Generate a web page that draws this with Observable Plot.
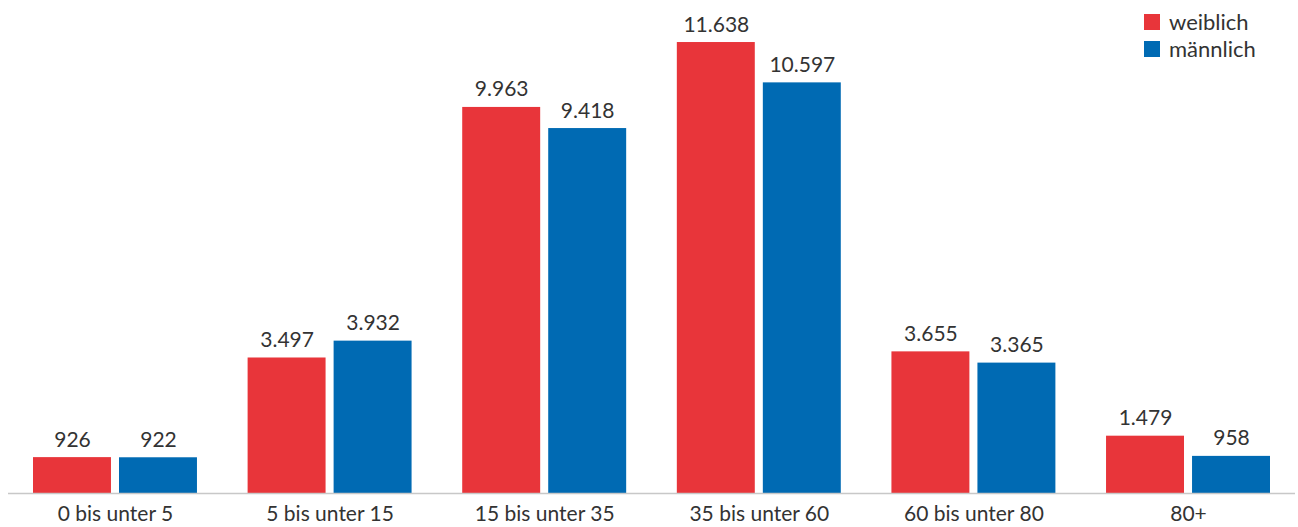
<!DOCTYPE html>
<html>
<head>
<meta charset="utf-8">
<script src="https://cdn.jsdelivr.net/npm/d3@7"></script>
<script src="https://cdn.jsdelivr.net/npm/@observablehq/plot@0.6"></script>
<style>
  html, body { margin: 0; padding: 0; background: #fff; }
  #wrap { position: relative; width: 1298px; height: 527px; font-family: Lato, sans-serif; }
  #legend { position: absolute; left: 1144px; top: 8px; font-size: 22px; color: #333; line-height: 27px; }
  #legend .item { display: flex; align-items: center; height: 27px; }
  #legend .sw { width: 16px; height: 16px; margin-right: 9px; }
</style>
</head>
<body>
<div id="wrap"></div>
<script>
const categories = ["0 bis unter 5", "5 bis unter 15", "15 bis unter 35", "35 bis unter 60", "60 bis unter 80", "80+"];
const weiblich = [926, 3497, 9963, 11638, 3655, 1479];
const maennlich = [922, 3932, 9418, 10597, 3365, 958];
const seriesNames = ["weiblich", "männlich"];
const seriesColors = ["#e8353a", "#006ab3"];

const fmt = d3.formatLocale({decimal: ",", thousands: ".", grouping: [3], currency: ["", "€"]}).format(",d");

const rowsW = categories.map((c, i) => ({cat: c, value: weiblich[i]}));
const rowsM = categories.map((c, i) => ({cat: c, value: maennlich[i]}));

const plot = Plot.plot({
  width: 1298,
  height: 527,
  marginLeft: 8,
  marginRight: 3,
  marginTop: 28,
  marginBottom: 34,
  style: {fontFamily: "Lato, sans-serif", fontSize: "21px", color: "#333", background: "#fff"},
  x: {domain: categories, paddingInner: 0.236, paddingOuter: 0.1165, round: false, label: null, tickSize: 0, tickPadding: 13},
  y: {domain: [0, 12000], axis: null},
  marks: [
    Plot.barY(rowsW, {x: "cat", y: "value", fill: seriesColors[0], insetRight: 86}),
    Plot.barY(rowsM, {x: "cat", y: "value", fill: seriesColors[1], insetLeft: 86}),
    Plot.text(rowsW, {x: "cat", y: "value", text: d => fmt(d.value), dx: -43, dy: -11, lineAnchor: "bottom", fill: "#333", fontSize: 21}),
    Plot.text(rowsM, {x: "cat", y: "value", text: d => fmt(d.value), dx: 43, dy: -11, lineAnchor: "bottom", fill: "#333", fontSize: 21}),
    Plot.ruleY([0], {stroke: "#c8c8c8", strokeWidth: 1.5})
  ]
});

const wrap = document.getElementById("wrap");
wrap.appendChild(plot);
const legend = document.createElement("div");
legend.id = "legend";
seriesNames.forEach((n, i) => {
  const item = document.createElement("div");
  item.className = "item";
  const sw = document.createElement("span");
  sw.className = "sw";
  sw.style.background = seriesColors[i];
  const t = document.createElement("span");
  t.textContent = n;
  item.appendChild(sw);
  item.appendChild(t);
  legend.appendChild(item);
});
wrap.appendChild(legend);
</script>
</body>
</html>
